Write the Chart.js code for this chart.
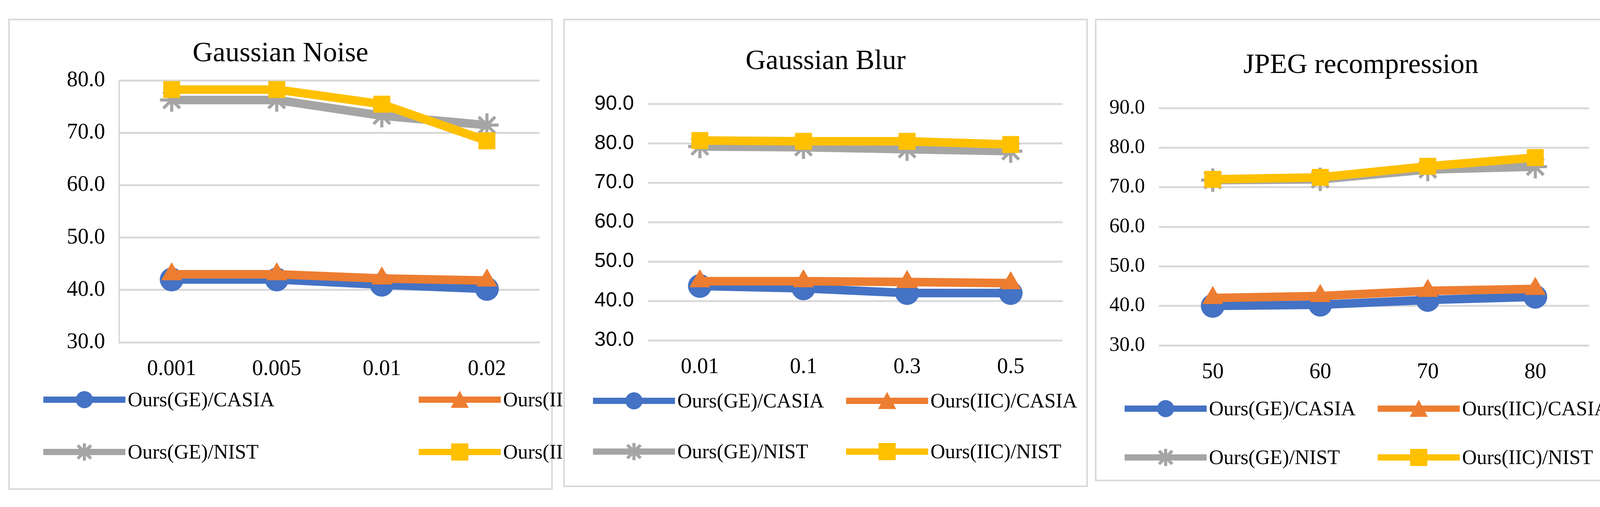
<!DOCTYPE html>
<html>
<head>
<meta charset="utf-8">
<script src="https://cdn.jsdelivr.net/npm/chart.js@4.4.1/dist/chart.umd.min.js"></script>
<style>
  body { margin: 0; width: 4186px; height: 1299px; background: #fff; position: relative; overflow: hidden; font-family: "Liberation Serif", serif; }
  .panel { position: absolute; border: 4px solid #d9d9d9; box-sizing: border-box; background: #fff; }
  .title { position: absolute; left: 0; right: 0; text-align: center; font-size: 72px; color: #000; }
  .box { position: absolute; }
  .leg { position: absolute; font-size: 52px; color: #000; display: flex; align-items: center; white-space: nowrap; }
  .leg svg { margin-right: 6px; }
</style>
</head>
<body>
<script>
// categories
const noiseLabels = ['0.001', '0.005', '0.01', '0.02'];
const blurLabels  = ['0.01', '0.1', '0.3', '0.5'];
const jpegLabels  = ['50', '60', '70', '80'];

const seriesNames = ['Ours(GE)/CASIA', 'Ours(IIC)/CASIA', 'Ours(GE)/NIST', 'Ours(IIC)/NIST'];

// Gaussian Noise
const noiseGeCasia  = [42.0, 42.0, 41.0, 40.2];
const noiseIicCasia = [43.0, 43.0, 42.2, 41.8];
const noiseGeNist   = [76.3, 76.3, 73.3, 71.5];
const noiseIicNist  = [78.3, 78.3, 75.5, 68.5];

// Gaussian Blur
const blurGeCasia  = [43.8, 43.2, 42.0, 42.0];
const blurIicCasia = [45.0, 45.0, 44.8, 44.5];
const blurGeNist   = [79.2, 79.0, 78.5, 78.0];
const blurIicNist  = [80.7, 80.5, 80.5, 79.7];

// JPEG recompression
const jpegGeCasia  = [40.0, 40.3, 41.5, 42.3];
const jpegIicCasia = [42.0, 42.5, 43.8, 44.3];
const jpegGeNist   = [71.8, 72.0, 74.5, 75.2];
const jpegIicNist  = [72.0, 72.5, 75.3, 77.5];

const colors = ['#4472c4', '#ed7d31', '#a5a5a5', '#ffc000'];
const markers = ['circle', 'triangle', 'star', 'rect'];

const panels = [
  { title: 'Gaussian Noise', labels: noiseLabels, data: [noiseGeCasia, noiseIicCasia, noiseGeNist, noiseIicNist],
    yMin: 30, yMax: 80, left: 21, top: 48, w: 1394, h: 1207, titleTop: 40, yFont: 56,
    plotL: 280, plotR: 1390, plotT: 165, plotB: 825, tickFont: 'Liberation Serif', axisLine: true,
    legX: [86, 1047], legY: [972, 1106] },
  { title: 'Gaussian Blur', labels: blurLabels, data: [blurGeCasia, blurIicCasia, blurGeNist, blurIicNist],
    yMin: 30, yMax: 90, left: 1442, top: 48, w: 1343, h: 1200, titleTop: 60, yFont: 52,
    plotL: 213, plotR: 1308, plotT: 227, plotB: 820, tickFont: 'Liberation Sans', axisLine: false,
    legX: [72, 720], legY: [975, 1105] },
  { title: 'JPEG recompression', labels: jpegLabels, data: [jpegGeCasia, jpegIicCasia, jpegGeNist, jpegIicNist],
    yMin: 30, yMax: 90, left: 2803, top: 48, w: 1362, h: 1185, titleTop: 70, yFont: 52,
    plotL: 160, plotR: 1295, plotT: 238, plotB: 833, tickFont: 'Liberation Serif', axisLine: false,
    legX: [72, 720], legY: [995, 1120] }
];

function markerSvg(i) {
  const c = colors[i];
  let m = '';
  if (markers[i] === 'circle') m = `<circle cx="105" cy="25" r="22" fill="${c}"/>`;
  if (markers[i] === 'triangle') m = `<polygon points="105,2 128,46 82,46" fill="${c}"/>`;
  if (markers[i] === 'rect') m = `<rect x="83" y="3" width="44" height="44" fill="${c}"/>`;
  if (markers[i] === 'star') m = `<g stroke="${c}" stroke-width="8"><line x1="88" y1="8" x2="122" y2="42"/><line x1="122" y1="8" x2="88" y2="42"/><line x1="105" y1="3" x2="105" y2="47"/></g>`;
  return `<svg width="210" height="50"><line x1="0" y1="25" x2="210" y2="25" stroke="${c}" stroke-width="16"/>${m}</svg>`;
}

panels.forEach(p => {
  const div = document.createElement('div');
  div.className = 'panel';
  Object.assign(div.style, { left: p.left + 'px', top: p.top + 'px', width: p.w + 'px', height: p.h + 'px' });
  document.body.appendChild(div);

  const t = document.createElement('div');
  t.className = 'title';
  t.style.top = p.titleTop + 'px';
  t.textContent = p.title;
  div.appendChild(t);

  const box = document.createElement('div');
  box.className = 'box';
  const padTop = 80;
  Object.assign(box.style, { left: '0px', top: (p.plotT - padTop) + 'px', width: (p.plotR + 4) + 'px', height: (p.plotB - p.plotT + padTop + 120) + 'px' });
  const cv = document.createElement('canvas');
  box.appendChild(cv);
  div.appendChild(box);

  new Chart(cv, {
    type: 'line',
    data: {
      labels: p.labels,
      datasets: p.data.map((d, i) => ({
        label: seriesNames[i],
        data: d,
        borderColor: colors[i],
        backgroundColor: colors[i],
        borderWidth: 22,
        pointStyle: markers[i],
        pointRadius: markers[i] === 'rect' ? 30 : 30,
        pointBorderWidth: markers[i] === 'star' ? 8 : 1,
        order: 4 - i
      }))
    },
    options: {
      responsive: true,
      maintainAspectRatio: false,
      animation: false,
      devicePixelRatio: 1,
      layout: { padding: { top: 8, right: 2, left: 0, bottom: 0 } },
      plugins: { legend: { display: false }, tooltip: { enabled: false } },
      scales: {
        x: {
          offset: true,
          afterFit: s => { s.height = 120; },
          grid: { display: false, drawTicks: false },
          border: { display: p.axisLine, color: '#d9d9d9', width: 4 },
          ticks: { color: '#000', padding: 36, font: { family: 'Liberation Serif', size: 56 } }
        },
        y: {
          min: p.yMin, max: p.yMax,
          afterFit: s => { s.width = p.plotL; },
          grid: { color: '#d9d9d9', lineWidth: 5, drawTicks: false },
          border: { display: p.axisLine, color: '#d9d9d9', width: 4 },
          ticks: { stepSize: 10, color: '#000', padding: 36, font: { family: p.tickFont, size: p.yFont },
                   callback: v => v.toFixed(1) }
        }
      }
    }
  });

  seriesNames.forEach((name, i) => {
    const l = document.createElement('div');
    l.className = 'leg';
    l.style.left = p.legX[i % 2] + 'px';
    l.style.top = (p.legY[Math.floor(i / 2)] - 30) + 'px';
    l.innerHTML = markerSvg(i) + '<span></span>';
    l.querySelector('span').textContent = name;
    div.appendChild(l);
  });
});
</script>
</body>
</html>
